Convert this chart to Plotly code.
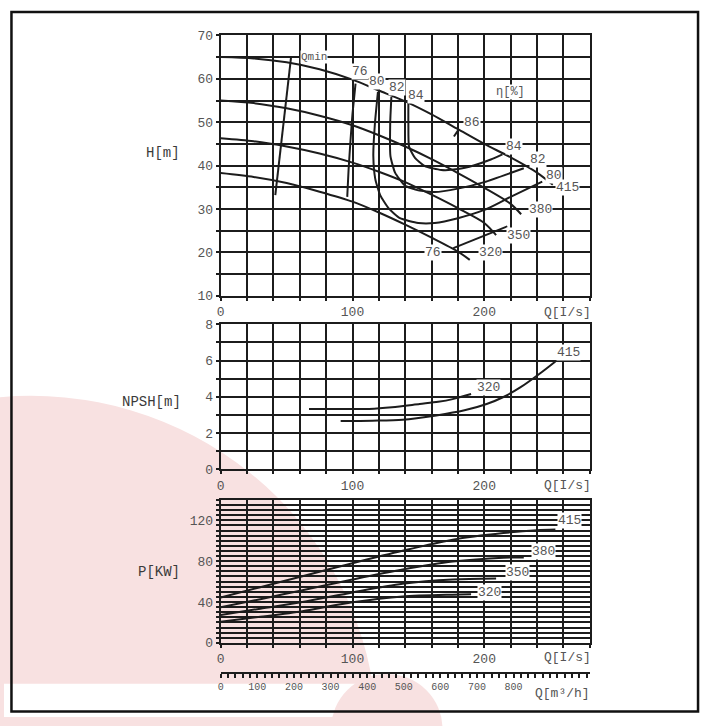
import numpy as np
import plotly.graph_objects as go

# ---------------- data ----------------
# H-Q curves (impeller diameters)
h415_q = [0, 25, 50, 75, 100, 120, 140, 160, 180, 200, 220, 240, 252]
h415_h = [65, 64.7, 63.8, 62.2, 59.8, 57.3, 54.8, 51.8, 48.4, 45.0, 41.9, 38.4, 35.6]
h380_q = [0, 25, 50, 75, 100, 120, 140, 160, 180, 200, 220, 228]
h380_h = [55, 54.4, 53.2, 51.5, 49.3, 47.0, 44.4, 41.5, 38.3, 34.9, 31.2, 28.8]
h350_q = [0, 25, 50, 75, 100, 120, 140, 160, 180, 200, 209]
h350_h = [46.3, 45.6, 44.4, 42.8, 40.7, 38.6, 36.2, 33.3, 30.2, 26.8, 24.0]
h320_q = [0, 25, 50, 75, 100, 120, 140, 160, 180, 189]
h320_h = [38.3, 37.4, 36.0, 34.0, 31.7, 29.2, 26.4, 23.4, 20.2, 18.3]

qmin_q = [41.4, 53.4]
qmin_h = [33.2, 65.1]

# efficiency iso-lines
e76a_q = [102.3, 100, 98.5, 97, 96]
e76a_h = [58.9, 52, 45.9, 39, 32.8]
e76b_q = [176.5, 217.5]
e76b_h = [21.0, 26.0]
e80_q = [119.3, 117.0, 115.8, 117.3, 121, 127.3, 136, 149.9, 162.4, 180, 200, 220, 244]
e80_h = [57.0, 49.7, 42.2, 36.9, 33.2, 30.2, 27.9, 26.8, 26.8, 27.9, 29.8, 32.8, 36.3]
e82_q = [129.5, 128.6, 128.8, 132.3, 139.8, 149.9, 162.4, 180, 200, 230]
e82_h = [55.8, 49.7, 42.2, 38.4, 35.4, 34.3, 33.9, 34.7, 36.2, 39.4]
e84_q = [142.4, 142.4, 142.9, 147.4, 154.9, 167.4, 180, 192.5, 205, 213.8]
e84_h = [54.4, 49.7, 44.4, 41.8, 39.9, 39.0, 39.2, 40.1, 41.4, 42.6]
e86_q = [177, 180.5]
e86_h = [46.7, 48.3]

# NPSH curves
n320_q = [67, 90, 112.7, 130, 151, 165, 176, 190]
n320_v = [3.32, 3.32, 3.33, 3.42, 3.6, 3.72, 3.87, 4.15]
n415_q = [91, 115, 138, 163.6, 185, 201.8, 215, 227, 242.5, 254]
n415_v = [2.66, 2.68, 2.73, 2.97, 3.25, 3.6, 4.0, 4.5, 5.3, 5.95]

# Power curves
p415_q = [0, 30, 62, 100, 138, 176, 214.5, 240, 254]
p415_p = [44.5, 54.5, 65.2, 78, 90.2, 101, 107.5, 110.3, 111]
p380_q = [0, 30, 62, 100, 138, 176, 214.5, 230]
p380_p = [34.8, 42.8, 51.5, 62, 71.8, 79.6, 83.4, 83.7]
p350_q = [0, 30, 62, 100, 138, 176, 209]
p350_p = [27.2, 33.5, 40, 49.4, 57.8, 62, 63]
p320_q = [0, 30, 62, 100, 138, 176, 190]
p320_p = [20.7, 25.5, 31, 39.8, 45.5, 47.2, 47.5]

# labels
h_labels = [("Qmin", 71, 65.0, 11), ("76", 106, 61.7, 13), ("80", 118.5, 59.4, 13),
            ("82", 133.6, 57.9, 13), ("84", 147.9, 56.1, 13), ("86", 191, 50.0, 13),
            ("η[%]", 220, 57, 12), ("84", 222.5, 44.4, 13), ("82", 240.6, 41.3, 13),
            ("80", 252.6, 37.8, 13), ("415", 263, 35.0, 13), ("380", 242.6, 30.0, 13),
            ("350", 226, 23.8, 13), ("320", 205, 20.0, 13), ("76", 161, 20.0, 13)]
n_labels = [("320", 203, 4.5), ("415", 264, 6.45)]
p_labels = [("415", 265, 120), ("380", 245, 89.5), ("350", 225.5, 69), ("320", 204, 49.5)]

q_ticks = list(range(0, 281, 20))
q_ticktext = [str(v) if v % 100 == 0 else "" for v in q_ticks]
h_ticks = list(range(10, 71, 5))
h_ticktext = [str(v) if v % 10 == 0 else "" for v in h_ticks]
n_ticks = list(range(0, 9))
n_ticktext = [str(v) if v % 2 == 0 else "" for v in n_ticks]
p_ticks = list(range(0, 141, 5))
p_ticktext = [str(v) if v % 40 == 0 else "" for v in p_ticks]
m3_ticks = list(range(0, 1001, 20))
m3_ticktext = [str(v) if (v % 100 == 0 and v <= 800) else "" for v in m3_ticks]

# ---------------- layout helpers ----------------
W, H = 705, 726
def px(x): return x / W
def py(y): return 1 - y / H

FONT = "Liberation Mono"
INK = "#1c1c1c"
TXT = "#555555"
XD = [px(218), px(589)]

fig = go.Figure()

def curve(x, y, xa, ya, smooth=0.8):
    fig.add_trace(go.Scatter(x=x, y=y, mode="lines", xaxis=xa, yaxis=ya,
                             line=dict(color=INK, width=2, shape="spline", smoothing=smooth),
                             hoverinfo="skip", showlegend=False))

for q, h in [(h415_q, h415_h), (h380_q, h380_h), (h350_q, h350_h), (h320_q, h320_h)]:
    curve(q, h, "x", "y")
curve(qmin_q, qmin_h, "x", "y")
for q, h in [(e76a_q, e76a_h), (e76b_q, e76b_h), (e80_q, e80_h), (e82_q, e82_h),
             (e84_q, e84_h), (e86_q, e86_h)]:
    curve(q, h, "x", "y", 0.5)
for q, v in [(n320_q, n320_v), (n415_q, n415_v)]:
    curve(q, v, "x2", "y2")
for q, p in [(p415_q, p415_p), (p380_q, p380_p), (p350_q, p350_p), (p320_q, p320_p)]:
    curve(q, p, "x3", "y3")
# carrier for the m3/h axis
fig.add_trace(go.Scatter(x=[0, 1000], y=[None, None], mode="lines", xaxis="x4", yaxis="y3",
                         hoverinfo="skip", showlegend=False))

ax_common = dict(showgrid=True, gridcolor=INK, gridwidth=2, showline=True, mirror=True,
                 linecolor=INK, linewidth=2, ticks="outside", ticklen=3, tickcolor=INK,
                 tickwidth=1.5, zeroline=False, tickmode="array",
                 tickfont=dict(family=FONT, size=13, color=TXT), fixedrange=True)

fig.update_layout(
    width=W, height=H, margin=dict(l=0, r=0, t=0, b=0), autosize=False,
    paper_bgcolor="white", plot_bgcolor="rgba(0,0,0,0)", showlegend=False,
    xaxis=dict(ax_common, domain=XD, anchor="y", range=[0, 280], tickvals=q_ticks, ticktext=q_ticktext),
    yaxis=dict(ax_common, domain=[py(296), py(30)], anchor="x", range=[10, 70],
               tickvals=h_ticks, ticktext=h_ticktext),
    xaxis2=dict(ax_common, domain=XD, anchor="y2", range=[0, 280], tickvals=q_ticks, ticktext=q_ticktext),
    yaxis2=dict(ax_common, domain=[py(473), py(325)], anchor="x2", range=[0, 8],
                tickvals=n_ticks, ticktext=n_ticktext),
    xaxis3=dict(ax_common, domain=XD, anchor="y3", range=[0, 280], tickvals=q_ticks, ticktext=q_ticktext),
    yaxis3=dict(ax_common, domain=[py(650.3), py(504.3)], anchor="x3", range=[0, 140],
                tickvals=p_ticks, ticktext=p_ticktext),
    xaxis4=dict(overlaying="x3", anchor="free", position=py(681), side="bottom",
                range=[0, 1008], showgrid=False, zeroline=False, showline=True,
                linecolor=INK, linewidth=2, ticks="outside", ticklen=4, tickwidth=1.5,
                tickcolor=INK, tickmode="array", tickvals=m3_ticks, ticktext=m3_ticktext,
                tickfont=dict(family=FONT, size=10, color=TXT), fixedrange=True),
)

# ---------------- background watermark & frame ----------------
PINK = "#f8e1e1"
def circ(cx, cy, r):
    return dict(type="circle", xref="paper", yref="paper", layer="below",
                x0=px(cx - r), x1=px(cx + r), y0=py(cy + r), y1=py(cy - r),
                fillcolor=PINK, line=dict(width=0))
fig.add_shape(circ(27, 746, 348))
fig.add_shape(type="rect", xref="paper", yref="paper", layer="below",
              x0=0, x1=1, y0=0, y1=py(692), fillcolor="white", line=dict(width=0))
fig.add_shape(circ(385, 738, 56))
fig.add_shape(type="rect", xref="paper", yref="paper", layer="above",
              x0=px(7.5), x1=px(698), y0=py(720.5), y1=py(6), fillcolor="rgba(0,0,0,0)",
              line=dict(color="#111", width=2.5))

# ---------------- text ----------------
def note(text, x, y, xr, yr, size=13, bg="white", color=TXT):
    fig.add_annotation(text=text, x=x, y=y, xref=xr, yref=yr, showarrow=False,
                       font=dict(family=FONT, size=size, color=color),
                       bgcolor=bg, borderpad=0, xanchor="center", yanchor="middle")

for t, q, v, s in h_labels:
    note(t, q, v, "x", "y", s)
for t, q, v in n_labels:
    note(t, q, v, "x2", "y2")
for t, q, v in p_labels:
    note(t, q, v, "x3", "y3")

note("H[m]", px(160), py(150), "paper", "paper", 14, "rgba(0,0,0,0)", "#3a3a3a")
note("NPSH[m]", px(148), py(404), "paper", "paper", 14, "rgba(0,0,0,0)", "#3a3a3a")
note("P[KW]", px(156), py(578), "paper", "paper", 14, "rgba(0,0,0,0)", "#3a3a3a")
for yy in (313, 489.5, 665.5):
    note("Q[I/s]", px(567), py(yy), "paper", "paper", 13, "rgba(0,0,0,0)")
note("Q[m³/h]", px(562), py(702), "paper", "paper", 13, "rgba(0,0,0,0)")

fig.write_html("out.html", config={"displayModeBar": False, "responsive": False},
               post_script="document.body.style.margin='0';document.body.style.padding='0';"
                           "document.body.style.overflow='hidden';")
